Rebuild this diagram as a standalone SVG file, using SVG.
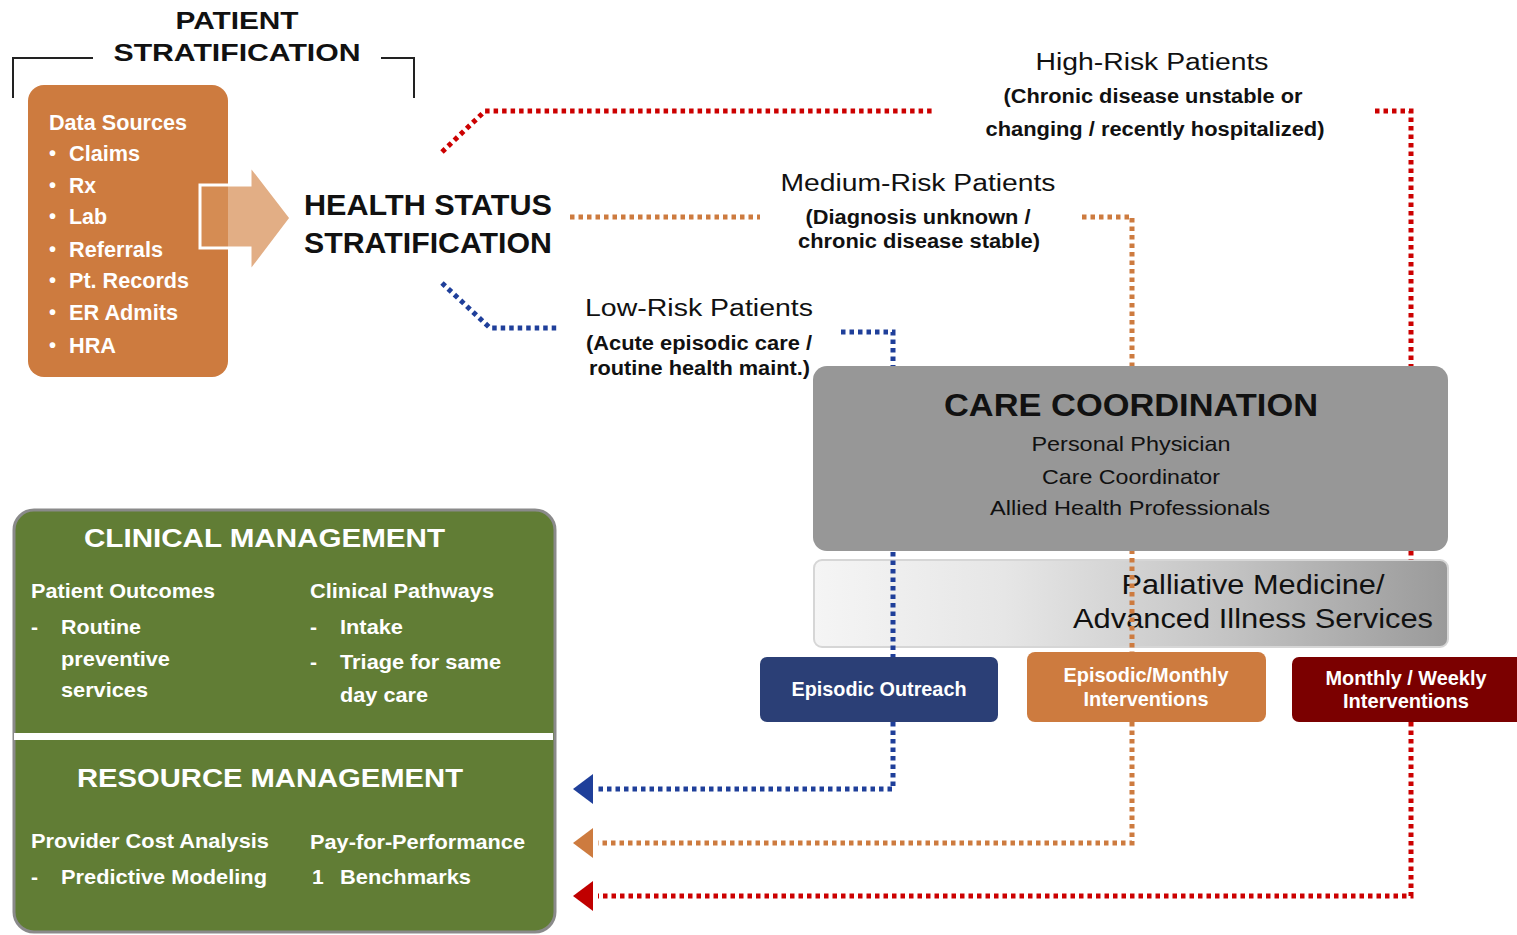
<svg xmlns="http://www.w3.org/2000/svg" width="1517" height="935" viewBox="0 0 1517 935">
<style>
text{font-family:"Liberation Sans",Arial,sans-serif}
.w{fill:#fff;font-weight:bold}
.k{fill:#111}
.b{font-weight:bold}
.dot{fill:none;stroke-width:5;stroke-dasharray:4.5 4}
.red{stroke:#CC0000}
.org{stroke:#CD7B3F}
.blu{stroke:#1F3F9A}
</style>
<defs>
<linearGradient id="pg" x1="0" y1="0" x2="1" y2="0">
<stop offset="0" stop-color="#f5f5f5"/>
<stop offset="0.3" stop-color="#e6e6e6"/>
<stop offset="0.65" stop-color="#c4c4c4"/>
<stop offset="1" stop-color="#9a9a9a"/>
</linearGradient>
</defs>
<rect width="1517" height="935" fill="#fff"/>

<g id="title">
<path d="M13,98 V58 H93 M381,58 H414 V98" fill="none" stroke="#222" stroke-width="2"/>
<text x="237" y="29" text-anchor="middle" class="b k" font-size="24" textLength="123" lengthAdjust="spacingAndGlyphs">PATIENT</text>
<text x="237" y="61" text-anchor="middle" class="b k" font-size="24" textLength="247" lengthAdjust="spacingAndGlyphs">STRATIFICATION</text>
</g>

<g id="data-sources">
<rect x="28" y="85" width="200" height="292" rx="16" fill="#CD7B3F"/>
<text class="w" font-size="22" x="49" y="130" textLength="138" lengthAdjust="spacingAndGlyphs">Data Sources</text>
<g class="w" font-size="20">
<text x="49" y="160">•</text><text x="69" y="161" font-size="22" textLength="71" lengthAdjust="spacingAndGlyphs">Claims</text>
<text x="49" y="192">•</text><text x="69" y="193" font-size="22" textLength="27" lengthAdjust="spacingAndGlyphs">Rx</text>
<text x="49" y="223">•</text><text x="69" y="224" font-size="22" textLength="38" lengthAdjust="spacingAndGlyphs">Lab</text>
<text x="49" y="256">•</text><text x="69" y="257" font-size="22" textLength="94" lengthAdjust="spacingAndGlyphs">Referrals</text>
<text x="49" y="287">•</text><text x="69" y="288" font-size="22" textLength="120" lengthAdjust="spacingAndGlyphs">Pt. Records</text>
<text x="49" y="319">•</text><text x="69" y="320" font-size="22" textLength="109" lengthAdjust="spacingAndGlyphs">ER Admits</text>
<text x="49" y="352">•</text><text x="69" y="353" font-size="22" textLength="47" lengthAdjust="spacingAndGlyphs">HRA</text>
</g>
</g>

<g id="arrow">
<path d="M200,185 H250 V165 L291,218 L250,272 V248 H200 Z" fill="#D8925A" fill-opacity="0.74" stroke="#fff" stroke-width="3" stroke-linejoin="miter"/>
</g>

<g id="health-status">
<text x="304" y="215" class="b k" font-size="30" textLength="248" lengthAdjust="spacingAndGlyphs">HEALTH STATUS</text>
<text x="304" y="253" class="b k" font-size="30" textLength="248" lengthAdjust="spacingAndGlyphs">STRATIFICATION</text>
</g>

<g id="high-risk">
<text x="1152" y="70" text-anchor="middle" class="k" font-size="23" textLength="233" lengthAdjust="spacingAndGlyphs">High-Risk Patients</text>
<text x="1153" y="103" text-anchor="middle" class="k b" font-size="20" textLength="299" lengthAdjust="spacingAndGlyphs">(Chronic disease unstable or</text>
<text x="1155" y="136" text-anchor="middle" class="k b" font-size="20" textLength="339" lengthAdjust="spacingAndGlyphs">changing / recently hospitalized)</text>
</g>
<g id="medium-risk">
<text x="918" y="191" text-anchor="middle" class="k" font-size="23" textLength="275" lengthAdjust="spacingAndGlyphs">Medium-Risk Patients</text>
<text x="918" y="224" text-anchor="middle" class="k b" font-size="20" textLength="225" lengthAdjust="spacingAndGlyphs">(Diagnosis unknown /</text>
<text x="919" y="248" text-anchor="middle" class="k b" font-size="20" textLength="242" lengthAdjust="spacingAndGlyphs">chronic disease stable)</text>
</g>
<g id="low-risk">
<text x="585" y="316" class="k" font-size="23" textLength="228" lengthAdjust="spacingAndGlyphs">Low-Risk Patients</text>
<text x="586" y="350" class="k b" font-size="20" textLength="226" lengthAdjust="spacingAndGlyphs">(Acute episodic care /</text>
<text x="589" y="375" class="k b" font-size="20" textLength="221" lengthAdjust="spacingAndGlyphs">routine health maint.)</text>
</g>

<g id="palliative">
<rect x="814" y="560" width="634" height="87" rx="8" fill="url(#pg)" stroke="#d6d6d6" stroke-width="2"/>
<text x="1253" y="594" text-anchor="middle" class="k" font-size="27" textLength="263" lengthAdjust="spacingAndGlyphs">Palliative Medicine/</text>
<text x="1253" y="628" text-anchor="middle" class="k" font-size="27" textLength="360" lengthAdjust="spacingAndGlyphs">Advanced Illness Services</text>
</g>

<g id="connectors">
<path class="dot red" d="M442,152 L485,111 H932"/>
<path class="dot red" d="M1375,111 H1411 V560"/>
<path class="dot red" d="M1411,722 V896 H598"/>
<path class="dot org" d="M570,217 H760"/>
<path class="dot org" d="M1082,217 H1132 V652"/>
<path class="dot org" d="M1132,722 V843 H598"/>
<path class="dot blu" d="M442,283 L490,328 H557"/>
<path class="dot blu" d="M841,332 H893 V657"/>
<path class="dot blu" d="M893,722 V789 H598"/>
<path d="M573,789 L593,774 V804 Z" fill="#1F3F9A"/>
<path d="M573,843 L593,828 V858 Z" fill="#CD7B3F"/>
<path d="M573,896 L593,881 V911 Z" fill="#C00000"/>
</g>

<g id="care-coordination">
<rect x="813" y="366" width="635" height="185" rx="14" fill="#979797"/>
<text x="1131" y="416" text-anchor="middle" class="b k" font-size="31" textLength="374" lengthAdjust="spacingAndGlyphs">CARE COORDINATION</text>
<text x="1131" y="451" text-anchor="middle" class="k" font-size="21" textLength="199" lengthAdjust="spacingAndGlyphs">Personal Physician</text>
<text x="1131" y="484" text-anchor="middle" class="k" font-size="21" textLength="178" lengthAdjust="spacingAndGlyphs">Care Coordinator</text>
<text x="1130" y="515" text-anchor="middle" class="k" font-size="21" textLength="280" lengthAdjust="spacingAndGlyphs">Allied Health Professionals</text>
</g>

<g id="episodic-outreach">
<rect x="760" y="657" width="238" height="65" rx="7" fill="#2B3F76"/>
<text x="879" y="696" text-anchor="middle" class="w" font-size="21" textLength="175" lengthAdjust="spacingAndGlyphs">Episodic Outreach</text>
</g>
<g id="episodic-monthly">
<rect x="1027" y="652" width="239" height="70" rx="8" fill="#CD7B3F"/>
<text x="1146" y="682" text-anchor="middle" class="w" font-size="21" textLength="165" lengthAdjust="spacingAndGlyphs">Episodic/Monthly</text>
<text x="1146" y="706" text-anchor="middle" class="w" font-size="21" textLength="125" lengthAdjust="spacingAndGlyphs">Interventions</text>
</g>
<g id="monthly-weekly">
<rect x="1292" y="657" width="235" height="65" rx="7" fill="#7B0000"/>
<text x="1406" y="685" text-anchor="middle" class="w" font-size="21" textLength="161" lengthAdjust="spacingAndGlyphs">Monthly / Weekly</text>
<text x="1406" y="708" text-anchor="middle" class="w" font-size="21" textLength="126" lengthAdjust="spacingAndGlyphs">Interventions</text>
</g>

<g id="management">
<rect x="14" y="510" width="541" height="422" rx="20" fill="#617D35" stroke="#8a8a8a" stroke-width="3"/>
<rect x="14" y="733" width="539" height="7" fill="#fff"/>
<text x="84" y="547" class="w" font-size="25" textLength="361" lengthAdjust="spacingAndGlyphs">CLINICAL MANAGEMENT</text>
<text x="31" y="598" class="w" font-size="21" textLength="184" lengthAdjust="spacingAndGlyphs">Patient Outcomes</text>
<text x="31" y="634" class="w" font-size="21">-</text>
<text x="61" y="634" class="w" font-size="21" textLength="80" lengthAdjust="spacingAndGlyphs">Routine</text>
<text x="61" y="666" class="w" font-size="21" textLength="109" lengthAdjust="spacingAndGlyphs">preventive</text>
<text x="61" y="697" class="w" font-size="21" textLength="87" lengthAdjust="spacingAndGlyphs">services</text>
<text x="310" y="598" class="w" font-size="21" textLength="184" lengthAdjust="spacingAndGlyphs">Clinical Pathways</text>
<text x="310" y="634" class="w" font-size="21">-</text>
<text x="340" y="634" class="w" font-size="21" textLength="63" lengthAdjust="spacingAndGlyphs">Intake</text>
<text x="310" y="669" class="w" font-size="21">-</text>
<text x="340" y="669" class="w" font-size="21" textLength="161" lengthAdjust="spacingAndGlyphs">Triage for same</text>
<text x="340" y="702" class="w" font-size="21" textLength="88" lengthAdjust="spacingAndGlyphs">day care</text>
<text x="77" y="787" class="w" font-size="25" textLength="386" lengthAdjust="spacingAndGlyphs">RESOURCE MANAGEMENT</text>
<text x="31" y="848" class="w" font-size="21" textLength="238" lengthAdjust="spacingAndGlyphs">Provider Cost Analysis</text>
<text x="310" y="849" class="w" font-size="21" textLength="215" lengthAdjust="spacingAndGlyphs">Pay-for-Performance</text>
<text x="31" y="884" class="w" font-size="21">-</text>
<text x="61" y="884" class="w" font-size="21" textLength="206" lengthAdjust="spacingAndGlyphs">Predictive Modeling</text>
<text x="312" y="884" class="w" font-size="21" font-weight="normal">1</text>
<text x="340" y="884" class="w" font-size="21" textLength="131" lengthAdjust="spacingAndGlyphs">Benchmarks</text>
</g>
</svg>
